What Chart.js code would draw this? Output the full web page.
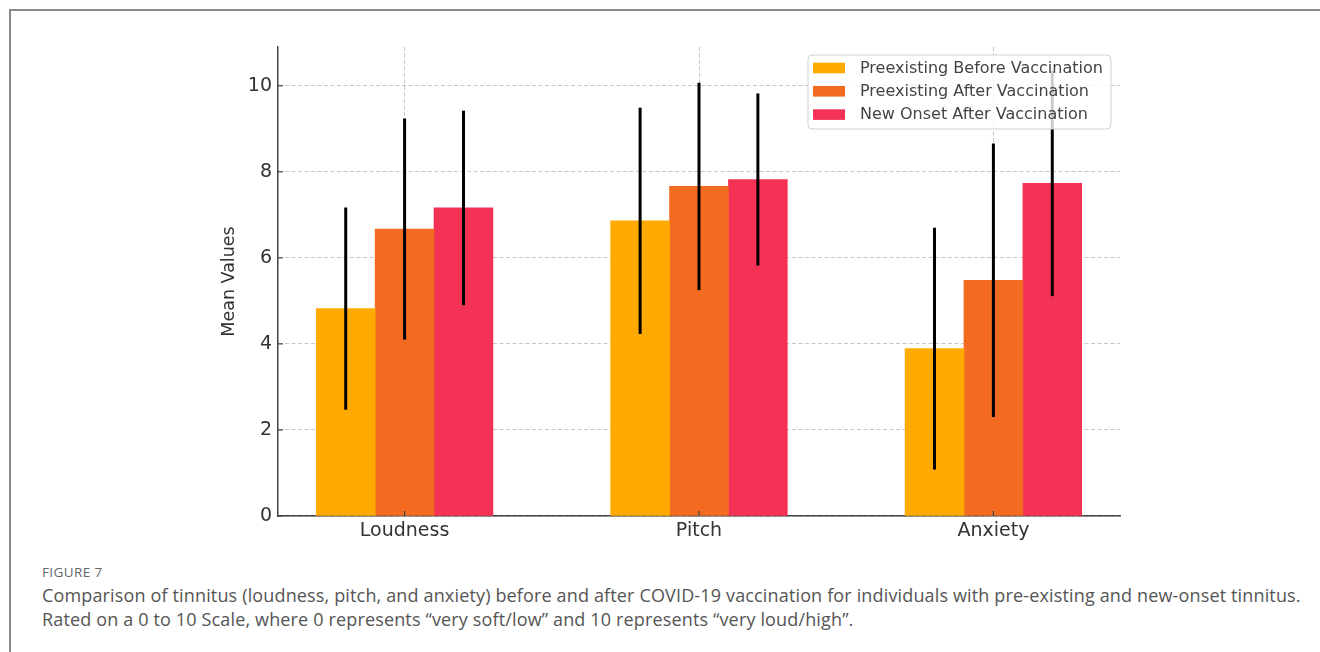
<!DOCTYPE html>
<html>
<head>
<meta charset="utf-8">
<script src="https://cdn.jsdelivr.net/npm/chart.js@4.4.1/dist/chart.umd.min.js"></script>
<style>
  html, body { margin: 0; padding: 0; background: #fff; }
  body { width: 1320px; height: 652px; position: relative; overflow: hidden; }
  #frame { position: absolute; left: 9px; top: 9px; width: 1400px; height: 700px;
           border-left: 2px solid #8a8a8a; border-top: 2px solid #8a8a8a; }
  #chartBox { position: absolute; left: 0; top: 0; width: 1320px; height: 560px; }
  .fig { position: absolute; left: 42px; top: 563px; font-family: "Open Sans", Lato, sans-serif;
         font-size: 13.5px; color: #666; letter-spacing: 0.4px; }
  .cap { position: absolute; left: 42px; top: 583px; font-family: "Open Sans", Lato, sans-serif;
         font-size: 18px; line-height: 24px; color: #555; white-space: nowrap; letter-spacing: 0.15px; }
</style>
</head>
<body>
<div id="frame"></div>
<div id="chartBox"><canvas id="tinnitusChart" width="1320" height="560"></canvas></div>
<div class="fig">FIGURE 7</div>
<div class="cap">Comparison of tinnitus (loudness, pitch, and anxiety) before and after COVID-19 vaccination for individuals with pre-existing and new-onset tinnitus.<br>Rated on a 0 to 10 Scale, where 0 represents “very soft/low” and 10 represents “very loud/high”.</div>
<script>
// categories and series
const categories = ['Loudness', 'Pitch', 'Anxiety'];
const seriesNames = ['Preexisting Before Vaccination', 'Preexisting After Vaccination', 'New Onset After Vaccination'];
const beforeVals = [4.82, 6.86, 3.89];
const beforeErr = [2.35, 2.63, 2.81];
const afterVals = [6.67, 7.66, 5.48];
const afterErr = [2.57, 2.41, 3.18];
const newVals = [7.16, 7.82, 7.73];
const newErr = [2.26, 2.00, 2.62];
const yTicks = [0, 2, 4, 6, 8, 10];

const colors = ['#FFAA00', '#F26B21', '#F43256'];
const BAR_W = 0.2;
const FONT = '"DejaVu Sans", sans-serif';

const series = [
    { vals: beforeVals, err: beforeErr },
    { vals: afterVals, err: afterErr },
    { vals: newVals, err: newErr }
];

const datasets = series.map((s, k) => ({
    label: seriesNames[k],
    data: s.vals.map((v, i) => ({ x: i + (k - 1) * BAR_W, y: v })),
    errors: s.err,
    backgroundColor: colors[k],
    borderWidth: 0
}));

const gridStyle = {
    color: 'rgba(176,176,176,0.7)',
    lineWidth: 1,
    drawTicks: false,
    offset: false
};
// axis line stays solid, grid lines get the dash
const borderStyle = { display: true, color: '#444', width: 1.5, dash: [4, 2.5] };

// error bars, inward ticks and the legend box drawn on top
const overlay = {
    id: 'overlay',
    afterDraw(chart) {
        const { ctx, chartArea: a, scales: { x, y } } = chart;
        ctx.save();

        // tick marks pointing inward
        ctx.strokeStyle = '#444';
        ctx.lineWidth = 1.2;
        categories.forEach((c, i) => {
            const px = x.getPixelForValue(i);
            ctx.beginPath(); ctx.moveTo(px, a.bottom); ctx.lineTo(px, a.bottom - 5); ctx.stroke();
        });
        yTicks.forEach(t => {
            const py = y.getPixelForValue(t);
            ctx.beginPath(); ctx.moveTo(a.left, py); ctx.lineTo(a.left + 5, py); ctx.stroke();
        });

        // error bars
        ctx.strokeStyle = '#000';
        ctx.lineWidth = 3;
        chart.data.datasets.forEach((ds, k) => {
            const meta = chart.getDatasetMeta(k);
            meta.data.forEach((bar, i) => {
                const m = ds.data[i].y, e = ds.errors[i];
                ctx.beginPath();
                ctx.moveTo(bar.x, y.getPixelForValue(m + e));
                ctx.lineTo(bar.x, y.getPixelForValue(m - e));
                ctx.stroke();
            });
        });

        // legend
        const lx = a.right - 312, ly = a.top + 8, lw = 303, lh = 74;
        ctx.beginPath();
        ctx.roundRect(lx, ly, lw, lh, 4);
        ctx.fillStyle = 'rgba(255,255,255,0.8)';
        ctx.fill();
        ctx.strokeStyle = '#d2d2d2';
        ctx.lineWidth = 1;
        ctx.stroke();
        ctx.font = '16px ' + FONT;
        ctx.textBaseline = 'middle';
        chart.data.datasets.forEach((ds, k) => {
            const cy = ly + 13 + k * 23.3;
            ctx.fillStyle = ds.backgroundColor;
            ctx.fillRect(lx + 5, cy - 5.3, 32, 10.6);
            ctx.fillStyle = '#444';
            ctx.fillText(ds.label, lx + 52, cy + 0.5);
        });
        ctx.restore();
    }
};

new Chart(document.getElementById('tinnitusChart'), {
    type: 'bar',
    data: { datasets },
    options: {
        responsive: false,
        animation: false,
        layout: { padding: { left: 198, right: 200, top: 47, bottom: 4 } },
        datasets: { bar: { grouped: false, categoryPercentage: 1, barPercentage: 1 } },
        plugins: { legend: { display: false }, tooltip: { enabled: false } },
        scales: {
            x: {
                type: 'linear',
                min: -0.43,
                max: 2.43,
                offset: false,
                z: 1,
                grid: { ...gridStyle },
                border: { ...borderStyle },
                afterBuildTicks: axis => { axis.ticks = categories.map((c, i) => ({ value: i })); },
                afterFit: axis => { axis.height = 40; },
                ticks: {
                    padding: 4,
                    color: '#333',
                    font: { family: FONT, size: 19 },
                    callback: v => categories[v]
                }
            },
            y: {
                min: 0,
                max: 10.9,
                z: 1,
                grid: { ...gridStyle },
                border: { ...borderStyle },
                afterBuildTicks: axis => { axis.ticks = yTicks.map(t => ({ value: t })); },
                afterFit: axis => { axis.width = 80; },
                ticks: {
                    padding: 6,
                    color: '#333',
                    font: { family: FONT, size: 19 }
                },
                title: {
                    display: true,
                    text: 'Mean Values',
                    color: '#333',
                    font: { family: FONT, size: 17.5 },
                    padding: { top: 21, bottom: 0 }
                }
            }
        }
    },
    plugins: [overlay]
});
</script>
</body>
</html>
